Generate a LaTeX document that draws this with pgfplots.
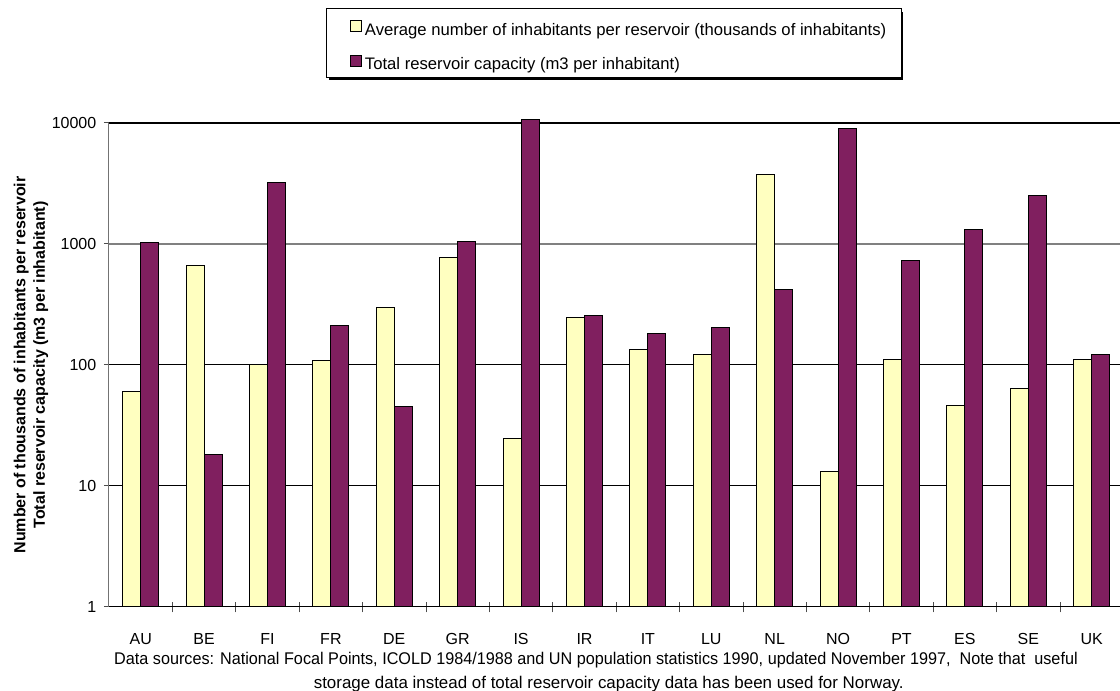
\documentclass[border=0pt]{standalone}
\usepackage{fontspec}
\setmainfont{Liberation Sans}
\usepackage{graphicx}
\usepackage{pgfplots}
\pgfplotsset{compat=1.18}
\definecolor{barY}{HTML}{FFFFC0}
\definecolor{barP}{HTML}{801F5F}
\begin{document}
\begin{tikzpicture}
\useasboundingbox (0,0) rectangle (840pt,518.25pt);
\clip (0,0) rectangle (840pt,518.25pt);
% legend drop shadow
\fill[black] (247.1pt,457.9pt) rectangle (676.9pt,509.6pt);
\begin{axis}[
  at={(81.75pt,63pt)}, anchor=south west,
  scale only axis, width=760.8pt, height=363pt,
  ymode=log, ymin=1, ymax=10000,
  xmin=-0.5, xmax=15.5,
  clip=false,
  axis x line*=bottom, axis y line*=left,
  x axis line style={-, black, line width=0.75pt},
  y axis line style={-, black!55, line width=0.75pt},
  xtick={0,...,15},
  xticklabels={AU,BE,FI,FR,DE,GR,IS,IR,IT,LU,NL,NO,PT,ES,SE,UK},
  minor xtick={0.5,1.5,...,14.5},
  major x tick style={draw=none},
  minor x tick style={black!70, line width=0.75pt},
  xtick align=center,
  minor tick length=8pt,
  ytick={1,10,100,1000,10000},
  yticklabels={1,10,100,1000,10000},
  ytick align=outside,
  yminorticks=false,
  major tick length=3.75pt,
  y tick style={black!70, line width=0.75pt},
  tick label style={font=\fontsize{12}{14}\selectfont},
  xticklabel style={anchor=base, yshift=-26pt},
  yticklabel style={anchor=east, xshift=-2.25pt},
  xlabel={\scalebox{0.957}[1]{Data sources: National Focal Points, ICOLD 1984/1988 and UN population statistics 1990, updated November 1997,\ \ Note that\ \ useful\hspace*{20pt}}\\storage data instead of total reservoir capacity data has been used for Norway.},
  every axis x label/.style={at={(rel axis cs:0.5,0)}, anchor=base, yshift=-61.1pt, xshift=-5.6pt, align=center, font=\fontsize{12.7}{17.6}\selectfont},
  ylabel={Number of thousands of inhabitants per reservoir\\Total reservoir capacity (m3 per inhabitant)},
  every axis y label/.style={at={(rel axis cs:-0.0769,0.5)}, rotate=90, anchor=center, align=center, font=\bfseries\fontsize{12}{14.6}\selectfont},
  legend style={
    at={(0.2139,1.2376)}, anchor=north west,
    draw=black, line width=0.75pt, fill=white,
    inner xsep=11.25pt, inner ysep=0pt,
    row sep=0pt,
    nodes={inner sep=0pt, text height=20pt, text depth=6pt, anchor=base west, font=\fontsize{12.5}{14}\selectfont},
    /tikz/every odd column/.append style={column sep=2.25pt},
  },
  every axis plot post/.append style={
    legend image code/.code={
      \path[draw=none, fill=none] (-6.75pt,0pt) -- (0pt,0pt);
      \draw[##1, draw=black, line width=0.75pt] (0pt,2.5pt) rectangle (8.25pt,10.75pt);
    }
  },
]
\addplot[black, line width=0.75pt, forget plot] coordinates {(-0.5,10) (15.5,10)};
\addplot[black, line width=0.75pt, forget plot] coordinates {(-0.5,100) (15.5,100)};
\addplot[black!50, line width=1.1pt, forget plot] coordinates {(-0.5,1000) (15.5,1000)};
\addplot[black, line width=1.6pt, forget plot] coordinates {(-0.5,10000) (15.5,10000)};
\addplot[ybar, bar width=13.5pt, bar shift=-6.75pt, draw=black, line width=0.75pt, fill=barY] coordinates {
(0,60) (1,660) (2,100) (3,108) (4,298) (5,770) (6,24.8) (7,246)
(8,134) (9,123) (10,3750) (11,13.3) (12,111) (13,46) (14,64) (15,110)};
\addlegendentry{Average number of inhabitants per reservoir (thousands of inhabitants)}
\addplot[ybar, bar width=13.5pt, bar shift=6.75pt, draw=black, line width=0.75pt, fill=barP] coordinates {
(0,1035) (1,18.2) (2,3220) (3,211) (4,45.5) (5,1040) (6,10600) (7,258)
(8,183) (9,206) (10,418) (11,8920) (12,728) (13,1313) (14,2494) (15,123)};
\addlegendentry{Total reservoir capacity (m3 per inhabitant)}
\end{axis}
\end{tikzpicture}
\end{document}
